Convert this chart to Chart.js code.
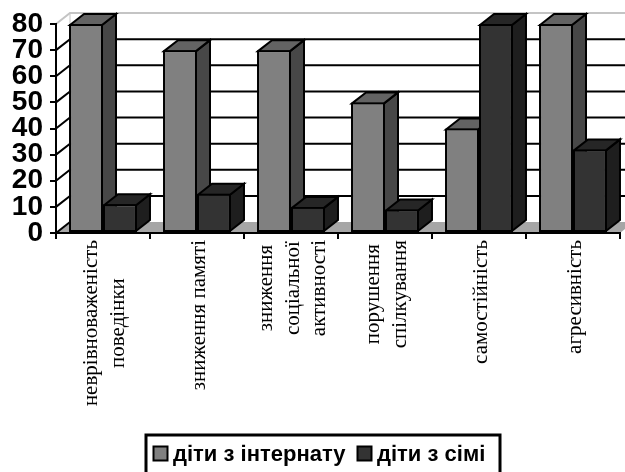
<!DOCTYPE html>
<html>
<head>
<meta charset="utf-8">
<title>Діти з інтернату та діти з сімі</title>
<script src="https://cdn.jsdelivr.net/npm/chart.js@4"></script>
<style>
    html, body { margin: 0; padding: 0; background: #fff; overflow: hidden; }
    #wrap { width: 625px; height: 472px; }
</style>
</head>
<body>
<div id="wrap"><canvas id="barChart" width="625" height="472"></canvas></div>
<script>
// Chart values
const categories = [
    ['неврівноваженість', 'поведінки'],
    ['зниження памяті'],
    ['зниження', 'соціальної', 'активності'],
    ['порушення', 'спілкування'],
    ['самостійність'],
    ['агресивність']
];
const internatValues = [80, 70, 70, 50, 40, 80];
const familyValues = [11, 15, 10, 9, 80, 32];
const yTicks = [0, 10, 20, 30, 40, 50, 60, 70, 80];
const seriesNames = ['діти з інтернату', 'діти з сімі'];

// Depth of the 3D effect
const depthX = 14;
const depthY = 11;

// Face colours per series: front, side, top
const faces = [
    { front: '#808080', side: '#474747', top: '#636363' },
    { front: '#333333', side: '#1e1e1e', top: '#262626' }
];

function fillPoly(ctx, points, fill, stroke, width) {
    ctx.beginPath();
    points.forEach((p, i) => {
        if (i === 0) ctx.moveTo(p[0], p[1]);
        else ctx.lineTo(p[0], p[1]);
    });
    ctx.closePath();
    if (fill) {
        ctx.fillStyle = fill;
        ctx.fill();
    }
    if (stroke) {
        ctx.strokeStyle = stroke;
        ctx.lineWidth = width;
        ctx.stroke();
    }
}

// Floor and back wall with its gridlines
const wallPlugin = {
    id: 'wall',
    beforeDraw(chart) {
        const { ctx, chartArea, scales } = chart;
        const { left, right } = chartArea;
        ctx.save();
        const y0 = scales.y.getPixelForValue(0);
        fillPoly(ctx, [
            [left, y0], [right, y0],
            [right + depthX, y0 - depthY], [left + depthX, y0 - depthY]
        ], '#a6a6a6');
        yTicks.forEach(v => {
            const y = scales.y.getPixelForValue(v);
            const isTop = v === yTicks[yTicks.length - 1];
            ctx.strokeStyle = isTop ? '#c4c4c4' : '#000';
            ctx.lineWidth = 2;
            ctx.beginPath();
            ctx.moveTo(left, y);
            ctx.lineTo(left + depthX, y - depthY);
            if (v !== 0) ctx.lineTo(right + depthX, y - depthY);
            ctx.stroke();
        });
        ctx.strokeStyle = '#c4c4c4';
        ctx.lineWidth = 1;
        ctx.beginPath();
        ctx.moveTo(left + depthX, scales.y.getPixelForValue(80) - depthY);
        ctx.lineTo(left + depthX, y0 - depthY);
        ctx.stroke();
        ctx.restore();
    }
};

// Top and side faces of all bars; the library paints the front faces over them
const extrudePlugin = {
    id: 'extrude',
    beforeDatasetsDraw(chart) {
        const { ctx } = chart;
        ctx.save();
        ctx.lineJoin = 'miter';
        faces.forEach((colors, index) => {
            chart.getDatasetMeta(index).data.forEach(bar => {
                const x1 = bar.x - bar.width / 2 + 1;
                const x2 = bar.x + bar.width / 2 - 1;
                const top = bar.y + 1;
                const base = bar.base - 1;
                fillPoly(ctx, [
                    [x2, top], [x2 + depthX, top - depthY],
                    [x2 + depthX, base - depthY], [x2, base]
                ], colors.side, '#000', 2);
                fillPoly(ctx, [
                    [x1, top], [x1 + depthX, top - depthY],
                    [x2 + depthX, top - depthY], [x2, top]
                ], colors.top, '#000', 2);
            });
        });
        ctx.restore();
    }
};

// Vertical category labels, each block centred on its own middle line
const categoryLabelPlugin = {
    id: 'categoryLabels',
    afterDraw(chart) {
        const { ctx, scales } = chart;
        const labelTop = 240;
        const lineGap = 26.5;
        ctx.save();
        ctx.font = '21px "Liberation Serif"';
        ctx.fillStyle = '#000';
        ctx.textAlign = 'center';
        ctx.textBaseline = 'middle';
        categories.forEach((lines, i) => {
            const cx = scales.x.getPixelForValue(i) + 2;
            const longest = Math.max(...lines.map(l => ctx.measureText(l).width));
            lines.forEach((line, n) => {
                const offset = (n - (lines.length - 1) / 2) * lineGap;
                ctx.save();
                ctx.translate(cx + offset, labelTop + longest / 2);
                ctx.rotate(-Math.PI / 2);
                ctx.fillText(line, 0, 0);
                ctx.restore();
            });
        });
        ctx.restore();
    }
};

// Framed legend under the chart, its lower edge runs past the canvas
const legendPlugin = {
    id: 'framedLegend',
    afterDraw(chart) {
        const { ctx } = chart;
        ctx.save();
        ctx.strokeStyle = '#000';
        ctx.lineWidth = 3;
        ctx.strokeRect(146, 435, 354, 50);
        ctx.font = 'bold 22px "Liberation Sans"';
        ctx.textBaseline = 'alphabetic';
        ctx.textAlign = 'left';
        const swatchX = [153.5, 357.5];
        const textX = [173, 377];
        seriesNames.forEach((name, i) => {
            ctx.fillStyle = faces[i].front;
            ctx.fillRect(swatchX[i], 446.5, 14, 14);
            ctx.lineWidth = 2;
            ctx.strokeRect(swatchX[i], 446.5, 14, 14);
            ctx.fillStyle = '#000';
            ctx.fillText(name, textX[i], 461);
        });
        ctx.restore();
    }
};

const barChart = new Chart(document.getElementById('barChart').getContext('2d'), {
    type: 'bar',
    data: {
        labels: categories,
        datasets: [
            {
                label: seriesNames[0],
                data: internatValues,
                backgroundColor: faces[0].front
            },
            {
                label: seriesNames[1],
                data: familyValues,
                backgroundColor: faces[1].front
            }
        ].map(ds => Object.assign(ds, {
            borderColor: '#000',
            borderWidth: 2,
            borderSkipped: false,
            categoryPercentage: 0.723,
            barPercentage: 1,
            clip: false
        }))
    },
    options: {
        responsive: false,
        animation: false,
        layout: { padding: { top: 24, right: 5, left: 0, bottom: 0 } },
        plugins: {
            legend: { display: false },
            tooltip: { enabled: false }
        },
        scales: {
            x: {
                afterFit: scale => { scale.height = 239; },
                border: { color: '#000', width: 2 },
                grid: {
                    offset: true,
                    drawOnChartArea: false,
                    color: '#000',
                    lineWidth: 2,
                    tickLength: 6
                },
                ticks: { display: false }
            },
            y: {
                min: 0,
                max: 80,
                afterFit: scale => { scale.width = 56; },
                afterBuildTicks: scale => {
                    scale.ticks = yTicks.map(v => ({ value: v }));
                },
                border: { color: '#000', width: 2 },
                grid: {
                    drawOnChartArea: false,
                    color: '#000',
                    lineWidth: 2,
                    tickLength: 6
                },
                ticks: {
                    autoSkip: false,
                    color: '#000',
                    padding: 7,
                    font: { family: '"Liberation Sans"', size: 28, weight: 'bold' }
                }
            }
        }
    },
    plugins: [wallPlugin, extrudePlugin, categoryLabelPlugin, legendPlugin]
});
</script>
</body>
</html>
